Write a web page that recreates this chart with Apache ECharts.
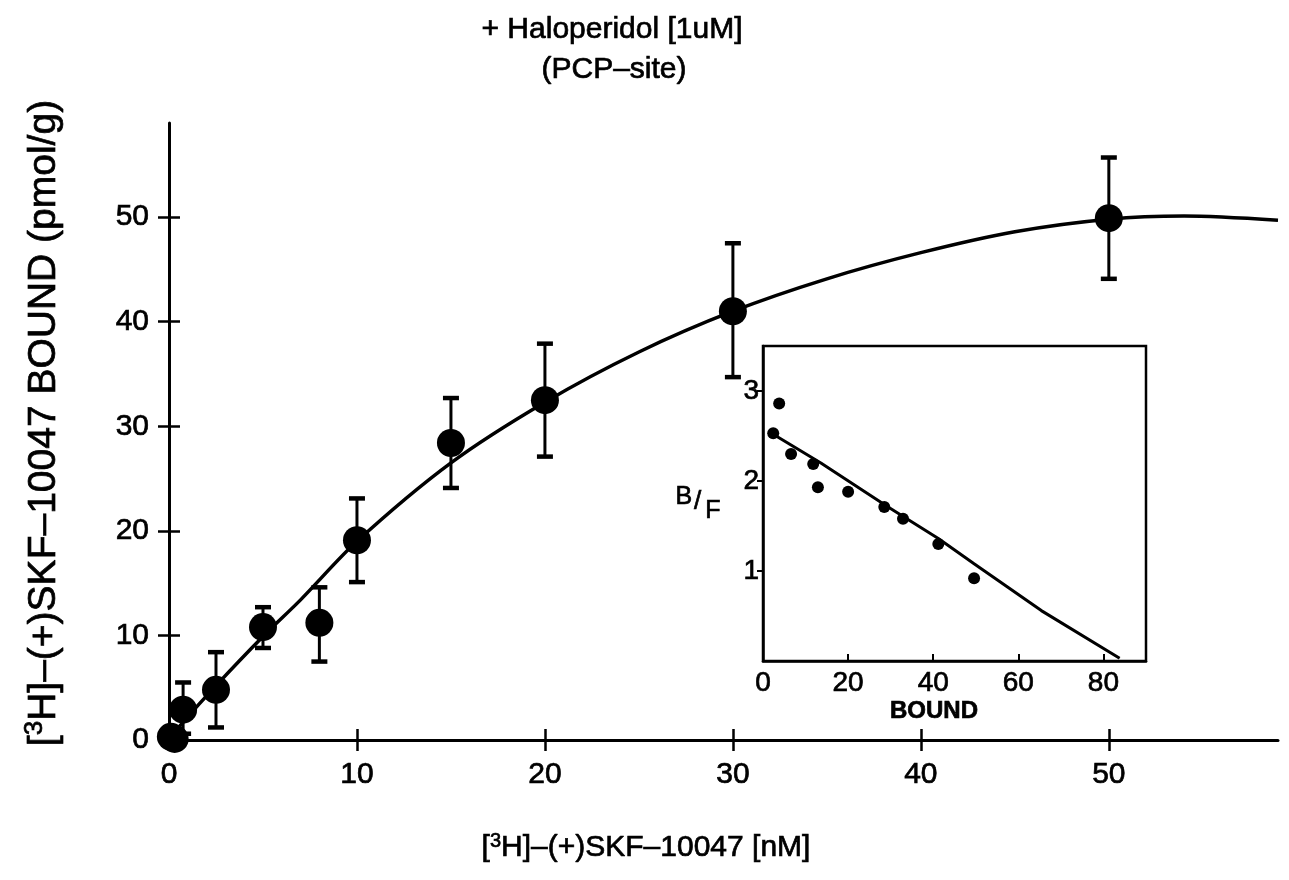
<!DOCTYPE html>
<html>
<head>
<meta charset="utf-8">
<script src="https://cdn.jsdelivr.net/npm/echarts@6/dist/echarts.min.js"></script>
<style>
  html, body { margin: 0; background: #fff; }
  #chart { width: 1289px; height: 880px; }
</style>
</head>
<body>
<div id="chart"></div>
<script>
// main plot: bound vs free concentration
const conc = [0.1, 0.3, 0.75, 2.5, 5, 8, 10, 15, 20, 30, 50]
const bound = [0.3, 0.1, 2.9, 4.8, 10.8, 11.2, 19.1, 28.4, 32.5, 41.0, 49.9]
const errLow = [null, null, 0.6, 1.2, 8.8, 7.5, 15.1, 24.1, 27.1, 34.7, 44.1]
const errHigh = [null, null, 5.5, 8.4, 12.7, 14.6, 23.1, 32.7, 37.9, 47.5, 55.7]

// fitted curve
const curveX = [0, 0.75, 2.5, 5, 7, 10, 15, 20, 25, 30, 35, 40, 45, 50, 54, 59]
const curveY = [0, 1.7, 5.2, 9.9, 13.4, 19.0, 26.5, 32.3, 37.1, 41.0, 44.1, 46.6, 48.6, 49.8, 50.1, 49.7]

const xTicks = [10, 20, 30, 40, 50]
const xLabels = [0, 10, 20, 30, 40, 50]
const yTicks = [10, 20, 30, 40, 50]
const yLabels = [0, 10, 20, 30, 40, 50]

// inset: scatchard plot
const insetBound = [3.8, 2.4, 6.6, 11.8, 12.9, 20, 28.5, 32.9, 41.2, 49.6]
const insetBF = [2.86, 2.53, 2.3, 2.19, 1.93, 1.88, 1.71, 1.58, 1.3, 0.92]
const insetLineX = [2.4, 13.6, 29.4, 41.2, 49.6, 65.4, 83.8]
const insetLineY = [2.52, 2.2, 1.71, 1.36, 1.08, 0.56, 0.03]
const insetXLabels = [0, 20, 40, 60, 80]
const insetYLabels = [1, 2, 3]

const font = 'Liberation Sans, Arial, sans-serif'
const ink = { textBorderColor: '#000', textBorderWidth: 0.7 }

const chart = echarts.init(document.getElementById('chart'))

const errData = conc
  .map((x, i) => [x, errLow[i], errHigh[i]])
  .filter(d => d[1] != null)

const mainX = (extra) => Object.assign({
  type: 'value', gridIndex: 0, min: 0, max: 59,
  splitLine: { show: false }
}, extra)
const mainY = (extra) => Object.assign({
  type: 'value', gridIndex: 0, min: 0, max: 59,
  splitLine: { show: false }
}, extra)

// graphic text: stroke gives the thicker print look
const txt = (x, y, text, size, extra) => ({
  type: 'text', x, y, ...extra,
  style: Object.assign({
    text, fontSize: size, fontFamily: font, fill: '#000', stroke: '#000', lineWidth: 0.7,
    align: 'center', verticalAlign: 'middle'
  }, extra && extra.style)
})

const supRich = { s: { fontSize: 20, verticalAlign: 'top', padding: [0, 0, 14, 0], fontFamily: font } }
const supRichBig = { s: { fontSize: 26, verticalAlign: 'top', padding: [0, 0, 18, 0], fontFamily: font } }

chart.setOption({
  animation: false,
  backgroundColor: '#fff',
  grid: [
    { left: 169, right: 11, top: 123, bottom: 140 },
    { left: 763, right: 143, top: 346, bottom: 219, show: true, borderColor: '#000', borderWidth: 2.5 }
  ],
  xAxis: [
    mainX({
      axisLine: { lineStyle: { color: '#000', width: 3 } },
      axisTick: { show: true, length: 11, customValues: xTicks, lineStyle: { color: '#000', width: 2.5 } },
      axisLabel: { customValues: xLabels, color: '#000', fontFamily: font, fontSize: 30, margin: 20, ...ink }
    }),
    mainX({
      position: 'bottom',
      axisLine: { show: false },
      axisTick: { show: true, inside: true, length: 11, customValues: xTicks, lineStyle: { color: '#000', width: 2.5 } },
      axisLabel: { show: false }
    }),
    {
      type: 'value', gridIndex: 1, min: 0, max: 90, splitLine: { show: false },
      axisLine: { lineStyle: { color: '#000', width: 2.5 } },
      axisTick: { inside: true, length: 7, customValues: [20, 40, 60, 80], lineStyle: { color: '#000', width: 2 } },
      axisLabel: { customValues: insetXLabels, color: '#000', fontFamily: font, fontSize: 28, margin: 8, ...ink }
    }
  ],
  yAxis: [
    mainY({
      axisLine: { lineStyle: { color: '#000', width: 3 } },
      axisTick: { show: true, length: 11, customValues: yTicks, lineStyle: { color: '#000', width: 2.5 } },
      axisLabel: { customValues: yLabels, color: '#000', fontFamily: font, fontSize: 30, margin: 20, ...ink }
    }),
    mainY({
      position: 'left',
      axisLine: { show: false },
      axisTick: { show: true, inside: true, length: 11, customValues: yTicks, lineStyle: { color: '#000', width: 2.5 } },
      axisLabel: { show: false }
    }),
    {
      type: 'value', gridIndex: 1, min: 0, max: 3.5, splitLine: { show: false },
      axisLine: { lineStyle: { color: '#000', width: 2.5 } },
      axisTick: { length: 6, customValues: insetYLabels, lineStyle: { color: '#000', width: 2 } },
      axisLabel: { customValues: insetYLabels, color: '#000', fontFamily: font, fontSize: 28, margin: 4, ...ink }
    }
  ],
  graphic: [
    txt(612, 30, '+ Haloperidol [1uM]', 30),
    txt(614, 70, '(PCP–site)', 30),
    txt(646, 848, '[{s|3}H]–(+)SKF–10047 [nM]', 30, { style: { rich: supRich } }),
    txt(44, 423, '[{s|3}H]–(+)SKF–10047 BOUND (pmol/g)', 39, { rotation: Math.PI / 2, style: { rich: supRichBig } }),
    txt(698, 502, '{u|B}/{d|F}', 26, {
      style: {
        rich: {
          u: { fontSize: 25, padding: [0, 2, 10, 0], fontFamily: font },
          d: { fontSize: 25, padding: [18, 0, 0, 4], fontFamily: font }
        }
      }
    }),
    txt(934, 711, 'BOUND', 24, { style: { fontWeight: 'bold' } })
  ],
  series: [
    {
      type: 'line', xAxisIndex: 0, yAxisIndex: 0,
      data: curveX.map((x, i) => [x, curveY[i]]),
      smooth: 0.3, showSymbol: false,
      lineStyle: { color: '#000', width: 3.5 }
    },
    {
      type: 'custom', xAxisIndex: 0, yAxisIndex: 0,
      data: errData,
      encode: { x: 0, y: [1, 2] },
      renderItem: (params, api) => {
        const x = api.value(0)
        const lo = api.coord([x, api.value(1)])
        const hi = api.coord([x, api.value(2)])
        const cap = 8
        return {
          type: 'group',
          children: [
            { type: 'line', shape: { x1: lo[0], y1: lo[1], x2: hi[0], y2: hi[1] }, style: { stroke: '#000', lineWidth: 3 } },
            { type: 'line', shape: { x1: hi[0] - cap, y1: hi[1], x2: hi[0] + cap, y2: hi[1] }, style: { stroke: '#000', lineWidth: 4.5 } },
            { type: 'line', shape: { x1: lo[0] - cap, y1: lo[1], x2: lo[0] + cap, y2: lo[1] }, style: { stroke: '#000', lineWidth: 4.5 } }
          ]
        }
      }
    },
    {
      type: 'scatter', xAxisIndex: 0, yAxisIndex: 0,
      data: conc.map((x, i) => [x, bound[i]]),
      symbol: 'circle', symbolSize: 28,
      itemStyle: { color: '#000', opacity: 1 }
    },
    {
      type: 'line', xAxisIndex: 2, yAxisIndex: 2,
      data: insetLineX.map((x, i) => [x, insetLineY[i]]),
      showSymbol: false,
      lineStyle: { color: '#000', width: 3 }
    },
    {
      type: 'scatter', xAxisIndex: 2, yAxisIndex: 2,
      data: insetBound.map((x, i) => [x, insetBF[i]]),
      symbol: 'circle', symbolSize: 12,
      itemStyle: { color: '#000', opacity: 1 }
    }
  ]
})
</script>
</body>
</html>
